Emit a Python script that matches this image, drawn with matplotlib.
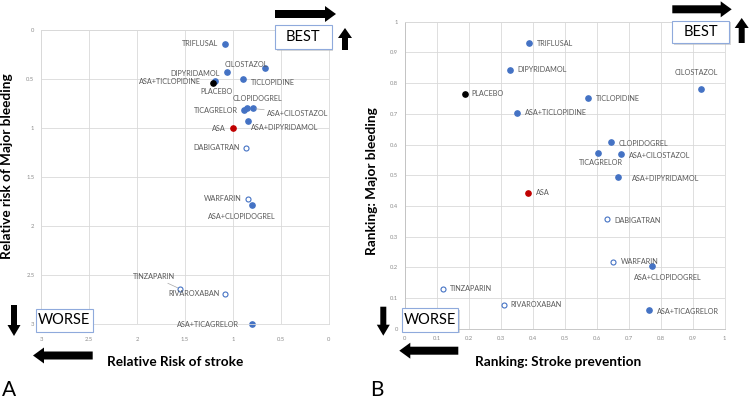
import matplotlib.pyplot as plt
from matplotlib.patches import FancyArrow, FancyBboxPatch
from matplotlib.transforms import IdentityTransform

# treatments, same order in both panels
drugs = ["TRIFLUSAL", "CILOSTAZOL", "DIPYRIDAMOL", "TICLOPIDINE", "ASA+TICLOPIDINE",
         "PLACEBO", "CLOPIDOGREL", "ASA+CILOSTAZOL", "TICAGRELOR", "ASA+DIPYRIDAMOL",
         "ASA", "DABIGATRAN", "WARFARIN", "ASA+CLOPIDOGREL", "TINZAPARIN",
         "RIVAROXABAN", "ASA+TICAGRELOR"]
kind = ["anti", "anti", "anti", "anti", "anti",
        "placebo", "anti", "anti", "anti", "anti",
        "asa", "coag", "coag", "anti", "coag",
        "coag", "anti"]

# panel A: relative risks
rr_stroke = [1.08, 0.66, 1.065, 0.89, 1.19, 1.21, 0.85, 0.79, 0.88, 0.84,
             1.0, 0.86, 0.84, 0.80, 1.55, 1.08, 0.80]
rr_bleed = [0.14, 0.39, 0.43, 0.50, 0.52, 0.54, 0.80, 0.80, 0.82, 0.93,
            1.0, 1.20, 1.72, 1.78, 2.64, 2.69, 3.0]

# panel B: rankings
rank_stroke = [0.388, 0.926, 0.328, 0.572, 0.35, 0.188, 0.644, 0.677, 0.604, 0.668,
               0.386, 0.633, 0.651, 0.772, 0.121, 0.31, 0.765]
rank_bleed = [0.93, 0.781, 0.843, 0.752, 0.703, 0.766, 0.607, 0.568, 0.572, 0.493,
              0.443, 0.356, 0.218, 0.203, 0.13, 0.079, 0.061]

# label placement (pixel offsets, alignment)
offs_a = [(-7, 0, "right"), (3, 4, "right"), (-7, -1, "right"), (7, -3, "left"),
          (-14, 0, "right"), (4, -9, "center"), (10, 10, "center"), (14, -5, "left"),
          (-6, 0, "right"), (3, -6, "left"), (-7, 0, "right"), (-7, 0, "right"),
          (-7, 0, "right"), (-10, -12, "center"), (-26, 12, "center"), (-6, 0, "right"),
          (-13, 0, "right")]
offs_b = [(8, 0, "left"), (-5, 16, "center"), (8, 0, "left"), (8, -1, "left"),
          (8, 0, "left"), (7, 0, "left"), (8, -1, "left"), (8, -1, "left"),
          (3, -9, "center"), (14, -1, "left"), (8, 0, "left"), (7, -1, "left"),
          (8, 0, "left"), (16, -11, "center"), (7, 0, "left"), (7, 0, "left"),
          (8, -1, "left")]

BLUE = "#4472C4"
RED = "#C00000"
TXT = "#595959"
GRID = "#D9D9D9"
W, H = 750, 401

plt.rcParams['font.family'] = ['Lato', 'DejaVu Sans']

fig = plt.figure(figsize=(7.5, 4.01), dpi=100)


def px_axes(x0, y0, x1, y1):
    # x0,y0 top-left / x1,y1 bottom-right in image pixels
    return fig.add_axes([x0 / W, 1 - y1 / H, (x1 - x0) / W, (y1 - y0) / H])


def draw_points(ax, xs, ys):
    for x, y, k in zip(xs, ys, kind):
        if k == "coag":
            ax.plot(x, y, "o", ms=3.6, mfc="white", mec=BLUE, mew=0.8, clip_on=False)
        elif k == "asa":
            ax.plot(x, y, "o", ms=3.8, color=RED, clip_on=False)
        elif k == "placebo":
            ax.plot(x, y, "o", ms=3.8, color="black", clip_on=False)
        else:
            ax.plot(x, y, "o", ms=3.8, color=BLUE, clip_on=False)


def label_points(ax, xs, ys, offs, leaders=()):
    for i, (name, x, y) in enumerate(zip(drugs, xs, ys)):
        dx, dy, ha = offs[i]
        kw = {}
        if name in leaders:
            kw["arrowprops"] = dict(arrowstyle="-", color="#A6A6A6", lw=0.5,
                                    shrinkA=0, shrinkB=2)
        ax.annotate(name, (x, y), xytext=(dx, dy), textcoords="offset pixels",
                    ha=ha, va="center", fontsize=5.2, color=TXT, **kw)


def style_axes(ax):
    ax.grid(True, color=GRID, lw=0.6)
    ax.set_axisbelow(True)
    for s in ax.spines.values():
        s.set_color(GRID)
        s.set_linewidth(0.6)
    ax.tick_params(length=0, labelsize=4.2, labelcolor="#8C8C8C", pad=5)


def fmt(v):
    return ("%g" % round(v, 2))


# ---- panel A ----
axA = px_axes(41.3, 30, 328.7, 324.3)
ticksA = [0, 0.5, 1, 1.5, 2, 2.5, 3]
axA.set_xlim(3, 0)
axA.set_ylim(3, 0)
axA.set_xticks(ticksA)
axA.set_yticks(ticksA)
axA.set_xticklabels([fmt(t) for t in ticksA])
axA.set_yticklabels([fmt(t) for t in ticksA])
style_axes(axA)
axA.tick_params(axis="x", pad=9)
draw_points(axA, rr_stroke, rr_bleed)
label_points(axA, rr_stroke, rr_bleed, offs_a, leaders=("ASA+CILOSTAZOL", "TINZAPARIN"))

# ---- panel B ----
axB = px_axes(404.7, 21.7, 724.6, 328.8)
ticksB = [i / 10 for i in range(11)]
axB.set_xlim(0, 1)
axB.set_ylim(0, 1)
axB.set_xticks(ticksB)
axB.set_yticks(ticksB)
axB.set_xticklabels([fmt(t) for t in ticksB])
axB.set_yticklabels([fmt(t) for t in ticksB])
style_axes(axB)
axB.spines["left"].set_color("#BFBFBF")
axB.spines["bottom"].set_color("#BFBFBF")
draw_points(axB, rank_stroke, rank_bleed)
label_points(axB, rank_stroke, rank_bleed, offs_b)


# ---- figure texts ----
def ftext(x, y, s, **kw):
    fig.text(x / W, 1 - y / H, s, **kw)


ftext(175, 362, "Relative Risk of stroke", ha="center", va="center",
      fontsize=9.8, fontweight="bold")
ftext(7, 166, "Relative risk of Major bleeding", ha="center", va="center",
      fontsize=9.8, fontweight="bold", rotation=90)
ftext(558, 362, "Ranking: Stroke prevention", ha="center", va="center",
      fontsize=9.8, fontweight="bold")
ftext(372, 181, "Ranking: Major bleeding", ha="center", va="center",
      fontsize=9.8, fontweight="bold", rotation=90)
ftext(8.5, 390, "A", ha="center", va="center", fontsize=15)
ftext(377, 390, "B", ha="center", va="center", fontsize=15)


def box(x0, y0, x1, y1, s):
    shadow = FancyBboxPatch((x0 + 1.5, H - y1 - 1.5), x1 - x0, y1 - y0,
                            boxstyle="square,pad=0", transform=IdentityTransform(),
                            fc="#BFBFBF", ec="none", alpha=0.6)
    b = FancyBboxPatch((x0, H - y1), x1 - x0, y1 - y0, boxstyle="square,pad=0",
                       transform=IdentityTransform(), fc="white", ec="#8FAADC", lw=0.8)
    fig.add_artist(shadow)
    fig.add_artist(b)
    ftext((x0 + x1) / 2, (y0 + y1) / 2, s, ha="center", va="center", fontsize=10.5)


def arrow(x0, y0, x1, y1, body=8, head=16, hlen=11):
    a = FancyArrow(x0, H - y0, x1 - x0, -(y1 - y0), width=body, head_width=head,
                   head_length=hlen, length_includes_head=True,
                   transform=IdentityTransform(), fc="black", ec="black", lw=0)
    fig.add_artist(a)


box(275, 25, 331.7, 49.3, "BEST")
box(35.7, 309, 92.7, 331.5, "WORSE")
box(672.3, 20.7, 729, 43.3, "BEST")
box(401.7, 308.3, 458.3, 331.7, "WORSE")

arrow(275, 14, 336, 14)
arrow(345, 50, 345, 28, body=6, head=14, hlen=10)
arrow(14, 305, 14, 336, body=6, head=13, hlen=11)
arrow(92.7, 355.5, 33, 355.5)

arrow(672.3, 9.3, 731.7, 9.3)
arrow(741.7, 43, 741.7, 18, body=6, head=14, hlen=10)
arrow(383.3, 306.7, 383.3, 335.7, body=6, head=13, hlen=11)
arrow(458.3, 350.7, 399.3, 350.7)

fig.savefig("out.png", dpi=100)
